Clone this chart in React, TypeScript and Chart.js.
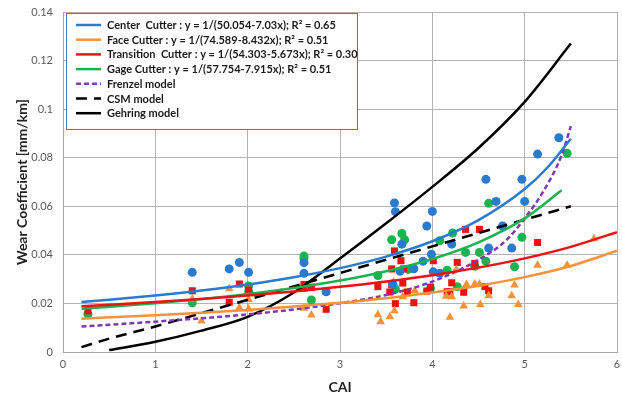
import React, { useEffect, useRef } from 'react';
import { Chart, registerables } from 'chart.js';
Chart.register(...registerables);

// ---- scatter observations [CAI, wear coefficient] ----
const centerPts: number[][] = [
  [1.40, 0.0328], [1.80, 0.0342], [1.91, 0.0369], [2.01, 0.0328], [2.61, 0.0368], [2.61, 0.0324],
  [2.85, 0.0248], [3.59, 0.0614], [3.60, 0.0578], [3.67, 0.0444], [3.65, 0.0332], [3.80, 0.0343],
  [3.57, 0.0280], [3.94, 0.0519], [4.00, 0.0579], [3.99, 0.0402], [3.90, 0.0374], [4.01, 0.0330],
  [4.08, 0.0324], [4.21, 0.0444], [4.58, 0.0711], [4.69, 0.0620], [4.61, 0.0428], [4.76, 0.0519],
  [4.86, 0.0428], [4.97, 0.0711], [5.00, 0.0620], [5.14, 0.0815], [5.37, 0.0882]
];
const facePts: number[][] = [
  [1.40, 0.0218], [1.50, 0.0128], [1.80, 0.0260], [1.91, 0.0182], [2.01, 0.0216], [2.01, 0.0177],
  [2.61, 0.0180], [2.69, 0.0152], [2.85, 0.0246], [3.41, 0.0153], [3.44, 0.0125], [3.54, 0.0145],
  [3.59, 0.0170], [3.58, 0.0287], [3.68, 0.0228], [3.81, 0.0252], [4.15, 0.0230], [4.21, 0.0228],
  [4.19, 0.0143], [4.26, 0.0340], [4.37, 0.0278], [4.46, 0.0280], [4.51, 0.0280], [4.34, 0.0189],
  [4.52, 0.0196], [4.61, 0.0232], [4.89, 0.0276], [4.86, 0.0232], [4.93, 0.0196], [5.14, 0.0357],
  [5.46, 0.0357], [5.75, 0.0466]
];
const transPts: number[][] = [
  [0.27, 0.0169], [1.40, 0.0252], [1.80, 0.0205], [1.91, 0.0280], [2.01, 0.0255], [2.61, 0.0278],
  [2.61, 0.0263], [2.69, 0.0267], [2.85, 0.0176], [3.59, 0.0416], [3.66, 0.0376], [3.56, 0.0342],
  [3.69, 0.0342], [3.41, 0.0269], [3.56, 0.0277], [3.68, 0.0284], [3.54, 0.0247], [3.73, 0.0247],
  [3.60, 0.0199], [3.80, 0.0203], [4.01, 0.0376], [3.98, 0.0267], [3.94, 0.0251], [4.16, 0.0248],
  [4.19, 0.0248], [4.21, 0.0285], [4.27, 0.0369], [4.34, 0.0246], [4.36, 0.0505], [4.51, 0.0505],
  [4.46, 0.0365], [4.57, 0.0269], [4.61, 0.0252], [5.14, 0.0451]
];
const gagePts: number[][] = [
  [0.27, 0.0155], [1.40, 0.0203], [2.01, 0.0272], [2.01, 0.0249], [2.61, 0.0395], [2.61, 0.0385],
  [2.69, 0.0214], [3.41, 0.0315], [3.56, 0.0462], [3.67, 0.0488], [3.70, 0.0462], [3.74, 0.0340],
  [3.60, 0.0259], [3.98, 0.0262], [4.08, 0.0458], [4.16, 0.0337], [4.22, 0.0490], [4.27, 0.0269],
  [4.36, 0.0410], [4.51, 0.0410], [4.46, 0.0353], [4.58, 0.0374], [4.61, 0.0612], [4.97, 0.0472],
  [4.89, 0.0351], [5.46, 0.0818]
];

// ---- fitted / model curves ----
const centerFitX = [0.2, 0.5, 1, 1.5, 2, 2.5, 3, 3.5, 4, 4.5, 5, 5.25, 5.5];
const centerFitY = [0.02056, 0.02149, 0.02324, 0.02531, 0.02778, 0.03079, 0.03453, 0.03929, 0.04559, 0.05429, 0.0671, 0.07607, 0.0878];
const faceFitX = [0.2, 1, 1.5, 2, 2.5, 3, 3.5, 4, 4.5, 5, 5.5, 6];
const faceFitY = [0.01372, 0.01512, 0.01614, 0.01732, 0.01869, 0.02029, 0.02218, 0.02447, 0.02729, 0.03084, 0.03544, 0.04167];
const transFitX = [0.2, 1, 1.5, 2, 2.5, 3, 3.5, 4, 4.5, 5, 5.5, 6];
const transFitY = [0.01881, 0.02056, 0.02184, 0.02328, 0.02493, 0.02682, 0.02903, 0.03163, 0.03475, 0.03855, 0.04329, 0.04935];
const gageFitX = [0.2, 1, 1.5, 2, 2.5, 3, 3.5, 4, 4.5, 5, 5.4];
const gageFitY = [0.0178, 0.02006, 0.0218, 0.02385, 0.02634, 0.0294, 0.03328, 0.03832, 0.04517, 0.05501, 0.06661];
const frenzelX = [0.2, 1, 2, 2.8, 3.5, 4, 4.5, 4.8, 5, 5.2, 5.4, 5.5];
const frenzelY = [0.0105, 0.0125, 0.0155, 0.019, 0.0235, 0.029, 0.038, 0.046, 0.055, 0.066, 0.081, 0.093];
const csmX = [0.2, 0.5, 1, 1.5, 2, 2.5, 3, 3.5, 4, 4.5, 5, 5.5];
const csmY = [0.002, 0.0055, 0.0105, 0.016, 0.0215, 0.027, 0.0325, 0.038, 0.0435, 0.049, 0.0545, 0.06];
const gehringX = [0.5, 1, 1.5, 2, 2.5, 3, 3.5, 4, 4.5, 5, 5.5];
const gehringY = [0.0008, 0.0042, 0.0088, 0.0145, 0.0245, 0.0385, 0.053, 0.068, 0.084, 0.103, 0.127];

const legendLabels = [
  'Center  Cutter : y = 1/(50.054-7.03x); R² = 0.65',
  'Face Cutter : y = 1/(74.589-8.432x); R² = 0.51',
  'Transition  Cutter : y = 1/(54.303-5.673x); R² = 0.30',
  'Gage Cutter : y = 1/(57.754-7.915x); R² = 0.51',
  'Frenzel model',
  'CSM model',
  'Gehring model',
];
const xTickLabels = ['0', '1', '2', '3', '4', '5', '6'];
const yTickLabels = ['0', '0.02', '0.04', '0.06', '0.08', '0.1', '0.12', '0.14'];

const BLUE = '#2A7BCF';
const ORANGE = '#F7923C';
const RED = '#EE1111';
const GREEN = '#1BB24F';
const PURPLE = '#7F3AAE';
const BLACK = '#000000';

const pts = (a: number[][]) => a.map(([x, y]) => ({ x, y }));
const zipXY = (xs: number[], ys: number[]) => xs.map((x, i) => ({ x, y: ys[i] }));

const FONT = 'Lato, "Open Sans", sans-serif';

const boxLegend = {
  id: 'boxLegend',
  afterDraw(chart: any) {
    const ctx = chart.ctx as CanvasRenderingContext2D;
    const items = chart.data.datasets.filter((d: any) => d.legendText);
    const ca = chart.chartArea;
    const left = ca.left + 3;
    const top = ca.top + 1;
    const w = 291;
    const h = 116;
    ctx.save();
    ctx.fillStyle = '#ffffff';
    ctx.fillRect(left, top, w, h);
    ctx.strokeStyle = '#4A7EC4';
    ctx.lineWidth = 1;
    ctx.strokeRect(left + 0.5, top + 0.5, w, h);
    ctx.font = `bold 11px ${FONT}`;
    ctx.textBaseline = 'middle';
    items.forEach((d: any, i: number) => {
      const y = top + 12 + i * 14.7;
      ctx.beginPath();
      ctx.setLineDash(d.borderDash || []);
      ctx.strokeStyle = d.borderColor;
      ctx.lineWidth = 2.5;
      ctx.moveTo(left + 10, y);
      ctx.lineTo(left + 35, y);
      ctx.stroke();
      ctx.setLineDash([]);
      ctx.fillStyle = '#1a1a1a';
      ctx.fillText(d.legendText, left + 41, y + 0.5);
    });
    ctx.restore();
  },
};

export default function App() {
  const ref = useRef<HTMLCanvasElement>(null);
  useEffect(() => {
    const lineDs = (label: string, data: any[], color: string, dash: number[] = []) => ({
      type: 'line' as const,
      legendText: label,
      data,
      borderColor: color,
      backgroundColor: color,
      borderWidth: 2.5,
      borderDash: dash,
      pointRadius: 0,
      showLine: true,
      fill: false,
      cubicInterpolationMode: 'monotone' as const,
      order: 1,
    });
    const scatDs = (data: any[], color: string, style: string, r: number) => ({
      type: 'scatter' as const,
      data,
      backgroundColor: color,
      borderColor: color,
      borderWidth: 0,
      pointStyle: style,
      pointRadius: r,
      pointHoverRadius: r,
      order: 2,
    });
    const chart = new Chart(ref.current!, {
      type: 'scatter',
      data: {
        datasets: [
          lineDs(legendLabels[0], zipXY(centerFitX, centerFitY), BLUE),
          lineDs(legendLabels[1], zipXY(faceFitX, faceFitY), ORANGE),
          lineDs(legendLabels[2], zipXY(transFitX, transFitY), RED),
          lineDs(legendLabels[3], zipXY(gageFitX, gageFitY), GREEN),
          lineDs(legendLabels[4], zipXY(frenzelX, frenzelY), PURPLE, [5, 3]),
          lineDs(legendLabels[5], zipXY(csmX, csmY), BLACK, [11, 7]),
          lineDs(legendLabels[6], zipXY(gehringX, gehringY), BLACK),
          scatDs(pts(centerPts), BLUE, 'circle', 4.5),
          scatDs(pts(facePts), ORANGE, 'triangle', 5),
          scatDs(pts(transPts), RED, 'rect', 5),
          scatDs(pts(gagePts), GREEN, 'circle', 4.5),
        ] as any,
      },
      options: {
        animation: false,
        responsive: false,
        maintainAspectRatio: false,
        layout: { padding: { top: 12, right: 5, left: 0, bottom: 0 } },
        plugins: { legend: { display: false }, tooltip: { enabled: false } },
        scales: {
          x: {
            type: 'linear',
            min: 0,
            max: 6,
            afterFit: (s: any) => { s.height = 46; s.paddingLeft = 0; s.paddingRight = 0; },
            ticks: {
              stepSize: 1,
              color: '#595959',
              font: { size: 11, family: FONT },
              padding: 6,
              callback: (_v: any, i: number) => xTickLabels[i],
            },
            grid: { color: '#b3b3b3', lineWidth: 1, drawTicks: false },
            border: { color: '#a6a6a6' },
            title: {
              display: true,
              text: 'CAI',
              color: '#222222',
              font: { size: 14, weight: 'bold', family: FONT },
              padding: { top: 6, bottom: 2 },
            },
          },
          y: {
            type: 'linear',
            min: 0,
            max: 0.14,
            afterFit: (s: any) => { s.width = 63; s.paddingTop = 0; s.paddingBottom = 0; },
            ticks: {
              stepSize: 0.02,
              color: '#595959',
              font: { size: 11, family: FONT },
              padding: 10,
              callback: (_v: any, i: number) => yTickLabels[i],
            },
            grid: { color: '#b3b3b3', lineWidth: 1, drawTicks: false },
            border: { color: '#a6a6a6' },
            title: {
              display: true,
              text: 'Wear Coefficient [mm/km]',
              color: '#222222',
              font: { size: 14, weight: 'bold', family: FONT },
              padding: { top: 14, bottom: 0 },
            },
          },
        },
      } as any,
      plugins: [boxLegend],
    });
    return () => chart.destroy();
  }, []);
  return (
    <div style={{ position: 'fixed', left: 0, top: 0, width: 622, height: 398, background: '#fff' }}>
      <canvas ref={ref} width={622} height={398} style={{ width: 622, height: 398 }} />
    </div>
  );
}
